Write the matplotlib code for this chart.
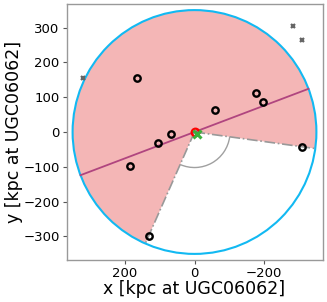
import numpy as np
import matplotlib
matplotlib.use('Agg')
from matplotlib import pyplot as plt
from matplotlib.patches import Wedge, Circle, Arc

# satellite positions [kpc] relative to UGC06062
sat_x = [166, 186, 105, 67, -60, -176, -196, -310, 132]
sat_y = [156, -99, -33, -6, 63, 111, 85, -42, -299]

# objects outside the survey radius
out_x = [319, -282, -310]
out_y = [156, 305, 263]

host_xy = (0, 0)
offset_xy = (-8, -6)

r_vir = 350.
pa_line = -20.75  # deg, orientation of the major axis
wedge_from = -66.2  # deg
wedge_to = 187.8  # deg
arc_r = 102.

fig = plt.figure(figsize=(3.27, 3.02), dpi=100)
ax = fig.add_axes([66/327, 42/302, 257/327, 256/302])

# shaded footprint
ax.add_patch(Wedge((0, 0), r_vir, wedge_from, wedge_to, facecolor='#f4b6b6', edgecolor='none', zorder=1))
ax.add_patch(Circle((0, 0), r_vir, facecolor='none', edgecolor='#12b9f2', lw=1.5, zorder=3))

for ang in [wedge_from, wedge_to]:
    a = np.radians(ang)
    ax.plot([0, r_vir*np.cos(a)], [0, r_vir*np.sin(a)], ls='-.', color='#999999', lw=1.2, zorder=2)
ax.add_patch(Arc((0, 0), 2*arc_r, 2*arc_r, theta1=wedge_to, theta2=wedge_from + 360, color='#a0a0a0', lw=1.0, zorder=2))

a = np.radians(pa_line)
ax.plot([-r_vir*np.cos(a), r_vir*np.cos(a)], [-r_vir*np.sin(a), r_vir*np.sin(a)], color='#b0457f', lw=1.3, zorder=4)

ax.plot(sat_x, sat_y, 'o', mfc='none', mec='k', mew=1.7, ms=4.6, zorder=5)
ax.plot(out_x, out_y, 'x', color='#666666', mew=1.6, ms=3.5, zorder=5)
ax.plot(*host_xy, 'o', mfc='none', mec='red', mew=1.6, ms=5.5, zorder=5)
ax.plot(*offset_xy, 'x', color='#3bb03b', mew=2.2, ms=6, zorder=6)

lim = 1.05*r_vir
ax.set_xlim(lim, -lim)
ax.set_ylim(-lim, lim)
ax.set_aspect('equal')
ax.set_xticks([200, 0, -200])
ax.set_yticks([300, 200, 100, 0, -100, -200, -300])
ax.tick_params(labelsize=9.5, color='#555555', length=3, pad=2)
for s in ax.spines.values():
    s.set_color('#999999')
    s.set_linewidth(1.0)
ax.set_xlabel('x [kpc at UGC06062]', fontsize=12.5, labelpad=0)
ax.set_ylabel('y [kpc at UGC06062]', fontsize=12.5, labelpad=0)

plt.savefig('out.png', dpi=100)
plt.close()
